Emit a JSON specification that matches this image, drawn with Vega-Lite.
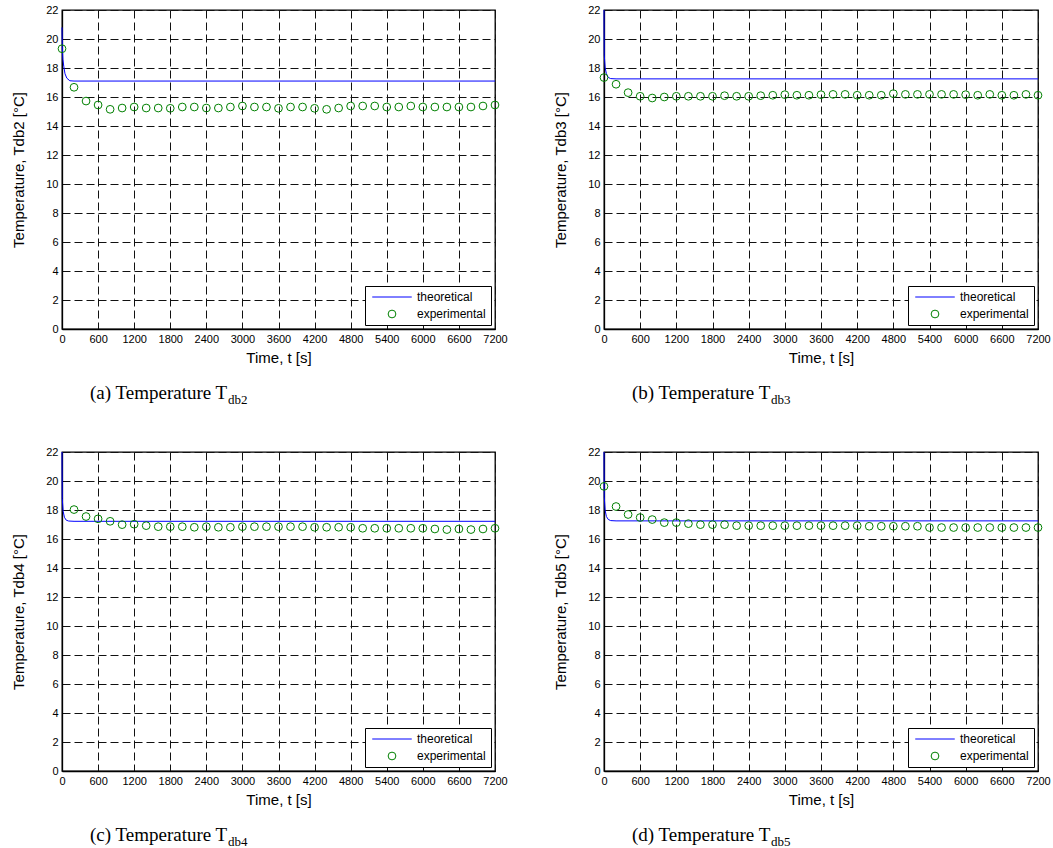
{
  "$schema": "https://vega.github.io/schema/vega-lite/v6.json",
  "background": "white",
  "padding": {"left": 11, "top": 3, "right": 0, "bottom": 2},
  "columns": 2,
  "spacing": {"row": 37, "column": 45},
  "resolve": {"scale": {"color": "independent", "shape": "independent"}, "legend": {"color": "independent", "shape": "independent"}},
  "config": {
    "font": "Liberation Sans",
    "view": {"stroke": "black", "strokeWidth": 1.3},
    "axis": {
      "grid": true, "gridColor": "#111", "gridDash": [8, 4], "gridWidth": 1, "gridOpacity": 1,
      "ticks": false, "domainColor": "black", "domainWidth": 1.3,
      "labelFont": "Liberation Sans", "labelFontSize": 11, "labelColor": "black", "labelPadding": 4,
      "labelOverlap": false, "labelFlush": false, "format": "d",
      "titleFont": "Liberation Sans", "titleFontSize": 15, "titleFontWeight": "normal", "titleColor": "black"
    },
    "axisX": {"titlePadding": 6},
    "axisY": {"titlePadding": 19},
    "legend": {
      "orient": "bottom-right", "offset": 4, "strokeColor": "black", "fillColor": "white",
      "padding": 5, "labelFont": "Liberation Sans", "labelFontSize": 12, "labelColor": "black",
      "symbolSize": 60, "symbolStrokeWidth": 1, "labelOffset": 19, "symbolOffset": 16, "rowPadding": 5
    },
    "title": {"font": "Liberation Serif", "fontSize": 19, "fontWeight": "normal", "color": "black", "orient": "bottom", "anchor": "start", "frame": "group", "dx": 28, "offset": 19,
      "subtitleFont": "Liberation Serif", "subtitleFontSize": 13, "subtitleColor": "black", "subtitlePadding": -9}
  },
  "datasets": {
    "d": [
      {"p":"a","s":"theoretical","t":0,"T":20.8},{"p":"a","s":"theoretical","t":5,"T":19.5},{"p":"a","s":"theoretical","t":15,"T":18.6},{"p":"a","s":"theoretical","t":30,"T":18.1},{"p":"a","s":"theoretical","t":50,"T":17.6},{"p":"a","s":"theoretical","t":80,"T":17.3},{"p":"a","s":"theoretical","t":130,"T":17.12},{"p":"a","s":"theoretical","t":200,"T":17.1},{"p":"a","s":"theoretical","t":7200,"T":17.1},
      {"p":"b","s":"theoretical","t":0,"T":22},{"p":"b","s":"theoretical","t":4,"T":18.9},{"p":"b","s":"theoretical","t":20,"T":18.0},{"p":"b","s":"theoretical","t":40,"T":17.6},{"p":"b","s":"theoretical","t":70,"T":17.35},{"p":"b","s":"theoretical","t":110,"T":17.27},{"p":"b","s":"theoretical","t":200,"T":17.25},{"p":"b","s":"theoretical","t":7200,"T":17.25},
      {"p":"c","s":"theoretical","t":0,"T":22},{"p":"c","s":"theoretical","t":4,"T":18.8},{"p":"c","s":"theoretical","t":20,"T":17.9},{"p":"c","s":"theoretical","t":40,"T":17.5},{"p":"c","s":"theoretical","t":70,"T":17.3},{"p":"c","s":"theoretical","t":110,"T":17.24},{"p":"c","s":"theoretical","t":200,"T":17.22},{"p":"c","s":"theoretical","t":7200,"T":17.22},
      {"p":"d","s":"theoretical","t":0,"T":22},{"p":"d","s":"theoretical","t":4,"T":18.9},{"p":"d","s":"theoretical","t":20,"T":17.95},{"p":"d","s":"theoretical","t":40,"T":17.55},{"p":"d","s":"theoretical","t":70,"T":17.35},{"p":"d","s":"theoretical","t":110,"T":17.27},{"p":"d","s":"theoretical","t":200,"T":17.25},{"p":"d","s":"theoretical","t":7200,"T":17.25},

      {"p":"a","s":"experimental","t":0,"T":19.33},{"p":"a","s":"experimental","t":200,"T":16.67},{"p":"a","s":"experimental","t":400,"T":15.72},{"p":"a","s":"experimental","t":600,"T":15.45},{"p":"a","s":"experimental","t":800,"T":15.15},{"p":"a","s":"experimental","t":1000,"T":15.24},{"p":"a","s":"experimental","t":1200,"T":15.31},{"p":"a","s":"experimental","t":1400,"T":15.24},{"p":"a","s":"experimental","t":1600,"T":15.24},{"p":"a","s":"experimental","t":1800,"T":15.22},{"p":"a","s":"experimental","t":2000,"T":15.31},{"p":"a","s":"experimental","t":2200,"T":15.31},{"p":"a","s":"experimental","t":2400,"T":15.24},{"p":"a","s":"experimental","t":2600,"T":15.24},{"p":"a","s":"experimental","t":2800,"T":15.31},{"p":"a","s":"experimental","t":3000,"T":15.38},{"p":"a","s":"experimental","t":3200,"T":15.31},{"p":"a","s":"experimental","t":3400,"T":15.31},{"p":"a","s":"experimental","t":3600,"T":15.22},{"p":"a","s":"experimental","t":3800,"T":15.31},{"p":"a","s":"experimental","t":4000,"T":15.31},{"p":"a","s":"experimental","t":4200,"T":15.22},{"p":"a","s":"experimental","t":4400,"T":15.15},{"p":"a","s":"experimental","t":4600,"T":15.24},{"p":"a","s":"experimental","t":4800,"T":15.38},{"p":"a","s":"experimental","t":5000,"T":15.38},{"p":"a","s":"experimental","t":5200,"T":15.38},{"p":"a","s":"experimental","t":5400,"T":15.31},{"p":"a","s":"experimental","t":5600,"T":15.31},{"p":"a","s":"experimental","t":5800,"T":15.38},{"p":"a","s":"experimental","t":6000,"T":15.31},{"p":"a","s":"experimental","t":6200,"T":15.31},{"p":"a","s":"experimental","t":6400,"T":15.31},{"p":"a","s":"experimental","t":6600,"T":15.31},{"p":"a","s":"experimental","t":6800,"T":15.31},{"p":"a","s":"experimental","t":7000,"T":15.38},{"p":"a","s":"experimental","t":7200,"T":15.45},

      {"p":"b","s":"experimental","t":0,"T":17.34},{"p":"b","s":"experimental","t":200,"T":16.88},{"p":"b","s":"experimental","t":400,"T":16.30},{"p":"b","s":"experimental","t":600,"T":16.05},{"p":"b","s":"experimental","t":800,"T":15.93},{"p":"b","s":"experimental","t":1000,"T":16.0},{"p":"b","s":"experimental","t":1200,"T":16.05},{"p":"b","s":"experimental","t":1400,"T":16.05},{"p":"b","s":"experimental","t":1600,"T":16.05},{"p":"b","s":"experimental","t":1800,"T":16.05},{"p":"b","s":"experimental","t":2000,"T":16.09},{"p":"b","s":"experimental","t":2200,"T":16.05},{"p":"b","s":"experimental","t":2400,"T":16.05},{"p":"b","s":"experimental","t":2600,"T":16.09},{"p":"b","s":"experimental","t":2800,"T":16.12},{"p":"b","s":"experimental","t":3000,"T":16.16},{"p":"b","s":"experimental","t":3200,"T":16.12},{"p":"b","s":"experimental","t":3400,"T":16.12},{"p":"b","s":"experimental","t":3600,"T":16.16},{"p":"b","s":"experimental","t":3800,"T":16.18},{"p":"b","s":"experimental","t":4000,"T":16.18},{"p":"b","s":"experimental","t":4200,"T":16.12},{"p":"b","s":"experimental","t":4400,"T":16.12},{"p":"b","s":"experimental","t":4600,"T":16.12},{"p":"b","s":"experimental","t":4800,"T":16.23},{"p":"b","s":"experimental","t":5000,"T":16.18},{"p":"b","s":"experimental","t":5200,"T":16.18},{"p":"b","s":"experimental","t":5400,"T":16.18},{"p":"b","s":"experimental","t":5600,"T":16.18},{"p":"b","s":"experimental","t":5800,"T":16.18},{"p":"b","s":"experimental","t":6000,"T":16.16},{"p":"b","s":"experimental","t":6200,"T":16.12},{"p":"b","s":"experimental","t":6400,"T":16.18},{"p":"b","s":"experimental","t":6600,"T":16.12},{"p":"b","s":"experimental","t":6800,"T":16.12},{"p":"b","s":"experimental","t":7000,"T":16.18},{"p":"b","s":"experimental","t":7200,"T":16.12},

      {"p":"c","s":"experimental","t":200,"T":18.03},{"p":"c","s":"experimental","t":400,"T":17.55},{"p":"c","s":"experimental","t":600,"T":17.39},{"p":"c","s":"experimental","t":800,"T":17.22},{"p":"c","s":"experimental","t":1000,"T":16.99},{"p":"c","s":"experimental","t":1200,"T":17.02},{"p":"c","s":"experimental","t":1400,"T":16.92},{"p":"c","s":"experimental","t":1600,"T":16.85},{"p":"c","s":"experimental","t":1800,"T":16.85},{"p":"c","s":"experimental","t":2000,"T":16.85},{"p":"c","s":"experimental","t":2200,"T":16.81},{"p":"c","s":"experimental","t":2400,"T":16.85},{"p":"c","s":"experimental","t":2600,"T":16.81},{"p":"c","s":"experimental","t":2800,"T":16.81},{"p":"c","s":"experimental","t":3000,"T":16.85},{"p":"c","s":"experimental","t":3200,"T":16.85},{"p":"c","s":"experimental","t":3400,"T":16.85},{"p":"c","s":"experimental","t":3600,"T":16.85},{"p":"c","s":"experimental","t":3800,"T":16.85},{"p":"c","s":"experimental","t":4000,"T":16.85},{"p":"c","s":"experimental","t":4200,"T":16.81},{"p":"c","s":"experimental","t":4400,"T":16.81},{"p":"c","s":"experimental","t":4600,"T":16.81},{"p":"c","s":"experimental","t":4800,"T":16.81},{"p":"c","s":"experimental","t":5000,"T":16.74},{"p":"c","s":"experimental","t":5200,"T":16.74},{"p":"c","s":"experimental","t":5400,"T":16.74},{"p":"c","s":"experimental","t":5600,"T":16.74},{"p":"c","s":"experimental","t":5800,"T":16.74},{"p":"c","s":"experimental","t":6000,"T":16.74},{"p":"c","s":"experimental","t":6200,"T":16.69},{"p":"c","s":"experimental","t":6400,"T":16.65},{"p":"c","s":"experimental","t":6600,"T":16.69},{"p":"c","s":"experimental","t":6800,"T":16.65},{"p":"c","s":"experimental","t":7000,"T":16.69},{"p":"c","s":"experimental","t":7200,"T":16.74},

      {"p":"d","s":"experimental","t":0,"T":19.63},{"p":"d","s":"experimental","t":200,"T":18.24},{"p":"d","s":"experimental","t":400,"T":17.69},{"p":"d","s":"experimental","t":600,"T":17.48},{"p":"d","s":"experimental","t":800,"T":17.34},{"p":"d","s":"experimental","t":1000,"T":17.13},{"p":"d","s":"experimental","t":1200,"T":17.13},{"p":"d","s":"experimental","t":1400,"T":17.06},{"p":"d","s":"experimental","t":1600,"T":16.99},{"p":"d","s":"experimental","t":1800,"T":16.99},{"p":"d","s":"experimental","t":2000,"T":16.99},{"p":"d","s":"experimental","t":2200,"T":16.92},{"p":"d","s":"experimental","t":2400,"T":16.92},{"p":"d","s":"experimental","t":2600,"T":16.92},{"p":"d","s":"experimental","t":2800,"T":16.92},{"p":"d","s":"experimental","t":3000,"T":16.92},{"p":"d","s":"experimental","t":3200,"T":16.92},{"p":"d","s":"experimental","t":3400,"T":16.92},{"p":"d","s":"experimental","t":3600,"T":16.92},{"p":"d","s":"experimental","t":3800,"T":16.92},{"p":"d","s":"experimental","t":4000,"T":16.92},{"p":"d","s":"experimental","t":4200,"T":16.92},{"p":"d","s":"experimental","t":4400,"T":16.88},{"p":"d","s":"experimental","t":4600,"T":16.88},{"p":"d","s":"experimental","t":4800,"T":16.88},{"p":"d","s":"experimental","t":5000,"T":16.88},{"p":"d","s":"experimental","t":5200,"T":16.88},{"p":"d","s":"experimental","t":5400,"T":16.79},{"p":"d","s":"experimental","t":5600,"T":16.79},{"p":"d","s":"experimental","t":5800,"T":16.79},{"p":"d","s":"experimental","t":6000,"T":16.79},{"p":"d","s":"experimental","t":6200,"T":16.79},{"p":"d","s":"experimental","t":6400,"T":16.79},{"p":"d","s":"experimental","t":6600,"T":16.79},{"p":"d","s":"experimental","t":6800,"T":16.79},{"p":"d","s":"experimental","t":7000,"T":16.79},{"p":"d","s":"experimental","t":7200,"T":16.79}
    ]
  },
  "concat": [
    {
      "width": 433, "height": 319,
      "data": {"name": "d"},
      "transform": [{"filter": "datum.p === 'a'"}],
      "title": {"text": "(a) Temperature T", "subtitle": "db2", "encode": {"subtitle": {"update": {"dx": {"value": 166}}}}},
      "encoding": {
        "x": {"field": "t", "type": "quantitative", "scale": {"domain": [0, 7200], "nice": false}, "axis": {"values": [0,600,1200,1800,2400,3000,3600,4200,4800,5400,6000,6600,7200], "title": "Time, t [s]"}},
        "y": {"field": "T", "type": "quantitative", "scale": {"domain": [0, 22], "nice": false}, "axis": {"values": [0,2,4,6,8,10,12,14,16,18,20,22], "title": "Temperature, Tdb2 [°C]"}}
      },
      "layer": [
        {"transform": [{"filter": "datum.s === 'theoretical'"}], "mark": {"type": "line", "color": "#0000ff", "strokeWidth": 1}},
        {"transform": [{"filter": "datum.s === 'experimental'"}], "mark": {"type": "point", "filled": false, "size": 60, "strokeWidth": 1, "opacity": 1},
         "encoding": {
           "color": {"field": "s", "type": "nominal", "scale": {"domain": ["theoretical", "experimental"], "range": ["#0000ff", "#008000"]}, "legend": {"title": null}},
           "shape": {"field": "s", "type": "nominal", "scale": {"domain": ["theoretical", "experimental"], "range": ["M-5.1,0H5.1", "circle"]}, "legend": {"title": null}}
         }}
      ]
    },
    {
      "width": 434, "height": 319,
      "data": {"name": "d"},
      "transform": [{"filter": "datum.p === 'b'"}],
      "title": {"text": "(b) Temperature T", "subtitle": "db3", "encode": {"subtitle": {"update": {"dx": {"value": 167}}}}},
      "encoding": {
        "x": {"field": "t", "type": "quantitative", "scale": {"domain": [0, 7200], "nice": false}, "axis": {"values": [0,600,1200,1800,2400,3000,3600,4200,4800,5400,6000,6600,7200], "title": "Time, t [s]"}},
        "y": {"field": "T", "type": "quantitative", "scale": {"domain": [0, 22], "nice": false}, "axis": {"values": [0,2,4,6,8,10,12,14,16,18,20,22], "title": "Temperature, Tdb3 [°C]"}}
      },
      "layer": [
        {"transform": [{"filter": "datum.s === 'theoretical'"}], "mark": {"type": "line", "color": "#0000ff", "strokeWidth": 1}},
        {"transform": [{"filter": "datum.s === 'experimental'"}], "mark": {"type": "point", "filled": false, "size": 60, "strokeWidth": 1, "opacity": 1},
         "encoding": {
           "color": {"field": "s", "type": "nominal", "scale": {"domain": ["theoretical", "experimental"], "range": ["#0000ff", "#008000"]}, "legend": {"title": null}},
           "shape": {"field": "s", "type": "nominal", "scale": {"domain": ["theoretical", "experimental"], "range": ["M-5.1,0H5.1", "circle"]}, "legend": {"title": null}}
         }}
      ]
    },
    {
      "width": 433, "height": 319,
      "data": {"name": "d"},
      "transform": [{"filter": "datum.p === 'c'"}],
      "title": {"text": "(c) Temperature T", "subtitle": "db4", "encode": {"subtitle": {"update": {"dx": {"value": 166}}}}},
      "encoding": {
        "x": {"field": "t", "type": "quantitative", "scale": {"domain": [0, 7200], "nice": false}, "axis": {"values": [0,600,1200,1800,2400,3000,3600,4200,4800,5400,6000,6600,7200], "title": "Time, t [s]"}},
        "y": {"field": "T", "type": "quantitative", "scale": {"domain": [0, 22], "nice": false}, "axis": {"values": [0,2,4,6,8,10,12,14,16,18,20,22], "title": "Temperature, Tdb4 [°C]"}}
      },
      "layer": [
        {"transform": [{"filter": "datum.s === 'theoretical'"}], "mark": {"type": "line", "color": "#0000ff", "strokeWidth": 1}},
        {"transform": [{"filter": "datum.s === 'experimental'"}], "mark": {"type": "point", "filled": false, "size": 60, "strokeWidth": 1, "opacity": 1},
         "encoding": {
           "color": {"field": "s", "type": "nominal", "scale": {"domain": ["theoretical", "experimental"], "range": ["#0000ff", "#008000"]}, "legend": {"title": null}},
           "shape": {"field": "s", "type": "nominal", "scale": {"domain": ["theoretical", "experimental"], "range": ["M-5.1,0H5.1", "circle"]}, "legend": {"title": null}}
         }}
      ]
    },
    {
      "width": 434, "height": 319,
      "data": {"name": "d"},
      "transform": [{"filter": "datum.p === 'd'"}],
      "title": {"text": "(d) Temperature T", "subtitle": "db5", "encode": {"subtitle": {"update": {"dx": {"value": 167}}}}},
      "encoding": {
        "x": {"field": "t", "type": "quantitative", "scale": {"domain": [0, 7200], "nice": false}, "axis": {"values": [0,600,1200,1800,2400,3000,3600,4200,4800,5400,6000,6600,7200], "title": "Time, t [s]"}},
        "y": {"field": "T", "type": "quantitative", "scale": {"domain": [0, 22], "nice": false}, "axis": {"values": [0,2,4,6,8,10,12,14,16,18,20,22], "title": "Temperature, Tdb5 [°C]"}}
      },
      "layer": [
        {"transform": [{"filter": "datum.s === 'theoretical'"}], "mark": {"type": "line", "color": "#0000ff", "strokeWidth": 1}},
        {"transform": [{"filter": "datum.s === 'experimental'"}], "mark": {"type": "point", "filled": false, "size": 60, "strokeWidth": 1, "opacity": 1},
         "encoding": {
           "color": {"field": "s", "type": "nominal", "scale": {"domain": ["theoretical", "experimental"], "range": ["#0000ff", "#008000"]}, "legend": {"title": null}},
           "shape": {"field": "s", "type": "nominal", "scale": {"domain": ["theoretical", "experimental"], "range": ["M-5.1,0H5.1", "circle"]}, "legend": {"title": null}}
         }}
      ]
    }
  ]
}
